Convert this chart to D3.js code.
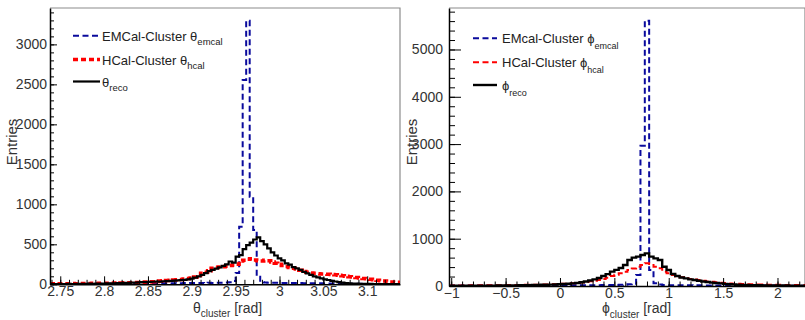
<!DOCTYPE html>
<html>
<head>
<meta charset="utf-8">
<script src="https://cdn.jsdelivr.net/npm/d3@7"></script>
<style>
  html, body { margin: 0; padding: 0; background: #fff; }
  svg { display: block; }
  text { font-family: "Liberation Sans", Arial, sans-serif; }
</style>
</head>
<body>
<svg id="chart" width="805" height="320"></svg>
<script>
// ---------------- DATA ----------------
// theta histograms: 100 bins, width 0.004 rad, starting at 2.738 rad
const thetaBinStart = 2.738;
const thetaBinWidth = 0.004;
const thetaEmcal = [
  2, 3, 2, 3, 4, 3, 4, 5, 4, 5,
  5, 6, 5, 6, 7, 6, 7, 8, 7, 8,
  9, 8, 9, 10, 9, 10, 11, 10, 11, 12,
  11, 12, 13, 12, 13, 14, 13, 14, 15, 14,
  15, 16, 15, 17, 16, 18, 17, 19, 18, 20,
  22, 25, 40, 140, 720, 2554, 3295, 1095, 680, 95,
  30, 22, 20, 19, 18, 18, 17, 17, 16, 16,
  15, 15, 14, 14, 13, 13, 12, 12, 11, 11,
  10, 10, 9, 9, 8, 8, 7, 7, 6, 6,
  5, 5, 5, 4, 4, 4, 3, 3, 3, 2
];
const thetaHcal = [
  6, 5, 7, 6, 8, 7, 9, 8, 10, 9,
  11, 10, 12, 11, 13, 12, 14, 15, 14, 16,
  17, 18, 20, 19, 22, 24, 26, 28, 30, 33,
  36, 40, 44, 48, 50, 53, 57, 60, 66, 72,
  80, 90, 110, 137, 150, 170, 200, 210, 215, 220,
  225, 235, 241, 250, 291, 300, 312, 320, 305, 295,
  290, 300, 295, 280, 262, 250, 235, 222, 210, 200,
  190, 175, 160, 150, 140, 137, 133, 130, 127, 125,
  122, 118, 112, 106, 100, 95, 90, 84, 78, 72,
  68, 62, 58, 50, 45, 40, 35, 30, 28, 25
];
const thetaReco = [
  2, 3, 2, 4, 3, 5, 4, 6, 5, 7,
  6, 8, 7, 9, 10, 9, 12, 11, 13, 14,
  15, 17, 18, 20, 22, 24, 26, 28, 31, 32,
  35, 34, 38, 40, 44, 47, 50, 53, 56, 62,
  70, 84, 100, 118, 140, 165, 180, 196, 212, 230,
  250, 285, 270, 345, 366, 440, 490, 520, 560, 587,
  540, 500, 450, 400, 360, 325, 300, 262, 245, 215,
  200, 180, 155, 137, 118, 100, 87, 75, 62, 54,
  44, 35, 26, 20, 16, 13, 10, 9, 7, 6,
  6, 5, 4, 4, 3, 3, 2, 3, 2, 2
];
const thetaMajorTicks = [2.75, 2.8, 2.85, 2.9, 2.95, 3, 3.05, 3.1];
const thetaMajorLabels = ["2.75", "2.8", "2.85", "2.9", "2.95", "3", "3.05", "3.1"];
const thetaCountTicks = [0, 500, 1000, 1500, 2000, 2500, 3000];

// phi histograms: bins of width 0.04 rad, starting at -1.02 rad (visible part)
const phiBinStart = -1.02;
const phiBinWidth = 0.04;
const phiEmcal = [
  8, 10, 9, 11, 10, 12, 11, 12, 10, 13,
  12, 11, 13, 12, 14, 13, 12, 14, 13, 15,
  14, 13, 15, 14, 16, 15, 14, 16, 15, 17,
  16, 15, 17, 18, 17, 19, 18, 20, 22, 24,
  28, 35, 50, 230, 2966, 5609, 338, 57, 30, 20,
  18, 17, 16, 16, 15, 15, 14, 14, 13, 13,
  12, 12, 12, 11, 11, 11, 10, 10, 10, 9,
  9, 9, 8, 8, 8, 7, 7, 7, 6, 6,
  6, 6
];
const phiHcal = [
  10, 12, 11, 13, 12, 14, 13, 15, 16, 15,
  17, 16, 18, 19, 20, 22, 21, 24, 25, 27,
  29, 31, 33, 35, 38, 42, 46, 52, 58, 66,
  75, 85, 98, 112, 127, 150, 175, 211, 240, 270,
  300, 338, 370, 408, 444, 480, 465, 408, 374, 303,
  268, 232, 200, 183, 165, 150, 140, 127, 110, 95,
  90, 80, 70, 62, 55, 50, 45, 42, 38, 35,
  33, 31, 30, 28, 27, 25, 24, 23, 22, 21,
  20, 20
];
const phiReco = [
  3, 4, 3, 5, 4, 6, 5, 7, 6, 8,
  8, 9, 10, 11, 12, 14, 15, 17, 18, 20,
  22, 25, 27, 30, 33, 37, 42, 48, 55, 65,
  78, 95, 115, 140, 170, 211, 250, 303, 340, 380,
  444, 550, 600, 620, 655, 690, 620, 585, 550, 408,
  338, 254, 211, 180, 162, 140, 127, 110, 95, 85,
  72, 62, 55, 45, 38, 32, 27, 24, 20, 18,
  16, 15, 13, 12, 11, 10, 9, 9, 8, 7,
  7, 6
];
const phiMajorTicks = [-1, -0.5, 0, 0.5, 1, 1.5, 2];
const phiMajorLabels = ["\u22121", "\u22120.5", "0", "0.5", "1", "1.5", "2"];
const phiCountTicks = [0, 1000, 2000, 3000, 4000, 5000];

const legendTheta = [
  { main: "EMCal-Cluster \u03b8", sub: "emcal" },
  { main: "HCal-Cluster \u03b8", sub: "hcal" },
  { main: "\u03b8", sub: "reco" }
];
const legendPhi = [
  { main: "EMcal-Cluster \u03d5", sub: "emcal" },
  { main: "HCal-Cluster \u03d5", sub: "hcal" },
  { main: "\u03d5", sub: "reco" }
];

// ---------------- DRAWING ----------------
const svg = d3.select("#chart");

const blue = "#0a0a9c", red = "#ff0000", black = "#000000";

function minorRange(a, b, step) {
  const out = [];
  const n = Math.round((b - a) / step);
  for (let i = 0; i <= n; i++) out.push(+(a + i * step).toFixed(6));
  return out;
}

function histPoints(start, width, values) {
  const pts = values.map((v, i) => [start + i * width, v]);
  pts.push([start + values.length * width, values[values.length - 1]]);
  return pts;
}

function drawPanel(cfg) {
  const g = svg.append("g");
  const x = d3.scaleLinear().domain(cfg.xDomain).range([cfg.left, cfg.right]);
  const y = d3.scaleLinear().domain(cfg.yDomain).range([cfg.bottom, cfg.top]);

  const clipId = "clip" + cfg.id;
  svg.append("clipPath").attr("id", clipId).append("rect")
    .attr("x", cfg.left).attr("y", cfg.top)
    .attr("width", cfg.right - cfg.left).attr("height", cfg.bottom - cfg.top);

  // frame (gray top / right)
  g.append("path")
    .attr("d", `M${cfg.left},${cfg.top}H${cfg.right}V${cfg.bottom}`)
    .attr("fill", "none").attr("stroke", "#8c8c8c").attr("stroke-width", 1.2);

  // histograms
  const line = d3.line().x(d => x(d[0])).y(d => y(d[1])).curve(d3.curveStepAfter);
  const hg = g.append("g").attr("clip-path", `url(#${clipId})`);
  cfg.series.forEach(s => {
    hg.append("path")
      .attr("d", line(histPoints(cfg.binStart, cfg.binWidth, s.values)))
      .attr("fill", "none").attr("stroke", s.color)
      .attr("stroke-width", s.width)
      .attr("stroke-dasharray", s.dash || null);
  });

  // x axis
  const xAxis = g.append("g").attr("transform", `translate(0,${cfg.bottom})`)
    .call(d3.axisBottom(x).tickValues(cfg.xMajor)
      .tickFormat((d, i) => cfg.xLabels[i])
      .tickSizeInner(-cfg.xMajorLen).tickSizeOuter(0).tickPadding(2));
  xAxis.select(".domain").attr("stroke", "#000").attr("stroke-width", 1.5);
  xAxis.selectAll(".tick line").attr("stroke", "#000");
  xAxis.selectAll("text").attr("font-size", 14).attr("fill", "#333")
    .attr("font-family", cfg.tickFont);
  const xMinor = g.append("g").attr("transform", `translate(0,${cfg.bottom})`)
    .call(d3.axisBottom(x).tickValues(cfg.xMinor).tickFormat("")
      .tickSizeInner(-cfg.xMinorLen).tickSizeOuter(0));
  xMinor.select(".domain").remove();
  xMinor.selectAll(".tick line").attr("stroke", "#000");

  // y axis
  const yAxis = g.append("g").attr("transform", `translate(${cfg.left},0)`)
    .call(d3.axisLeft(y).tickValues(cfg.yMajor).tickFormat(d3.format("d"))
      .tickSizeInner(-cfg.yMajorLen).tickSizeOuter(0).tickPadding(cfg.yPad));
  yAxis.select(".domain").attr("stroke", "#000").attr("stroke-width", 1.5);
  yAxis.selectAll(".tick line").attr("stroke", "#000");
  yAxis.selectAll("text").attr("font-size", 14).attr("fill", "#333")
    .attr("font-family", cfg.tickFont);
  const yMinor = g.append("g").attr("transform", `translate(${cfg.left},0)`)
    .call(d3.axisLeft(y).tickValues(cfg.yMinor).tickFormat("")
      .tickSizeInner(-cfg.yMinorLen).tickSizeOuter(0));
  yMinor.select(".domain").remove();
  yMinor.selectAll(".tick line").attr("stroke", "#000");

  // y title
  g.append("text")
    .attr("transform", `translate(${cfg.yTitleX},${cfg.yTitleY}) rotate(-90)`)
    .attr("text-anchor", "middle").attr("font-size", 15).attr("fill", "#333")
    .text("Entries");

  // x title
  const xt = g.append("text").attr("x", cfg.xTitleX).attr("y", cfg.xTitleY)
    .attr("font-size", 14).attr("fill", "#333");
  xt.append("tspan").text(cfg.xSymbol);
  xt.append("tspan").attr("font-size", 10).attr("dy", cfg.xSubDy).text("cluster");
  xt.append("tspan").attr("dy", -cfg.xSubDy).text(" [rad]");

  // legend
  cfg.legend.forEach((L, i) => {
    const s = cfg.series[i];
    const ly = cfg.legendRows[i];
    g.append("line")
      .attr("x1", cfg.legendX0).attr("x2", cfg.legendX1)
      .attr("y1", ly).attr("y2", ly)
      .attr("stroke", s.color).attr("stroke-width", s.legendWidth || s.width)
      .attr("stroke-dasharray", s.dash || null);
    const t = g.append("text").attr("x", cfg.legendTextX).attr("y", ly + cfg.legendBaseOff)
      .attr("font-size", 13).attr("fill", "#222").attr("font-family", cfg.legendFont);
    t.append("tspan").text(L.main);
    t.append("tspan").attr("font-size", cfg.legendSubSize).attr("dy", cfg.legendSubDy).text(L.sub);
  });
}

drawPanel({
  id: "theta",
  left: 50, right: 400, top: 8, bottom: 284.3,
  xDomain: [2.7383, 3.1374], yDomain: [0, 3455],
  binStart: thetaBinStart, binWidth: thetaBinWidth,
  series: [
    { values: thetaEmcal, color: blue, width: 2, dash: "6,3.5" },
    { values: thetaHcal, color: red, width: 3.5, dash: "5,3" },
    { values: thetaReco, color: black, width: 2.2 }
  ],
  xMajor: thetaMajorTicks, xLabels: thetaMajorLabels,
  xMinor: minorRange(2.74, 3.13, 0.01), xMajorLen: 8, xMinorLen: 4.5,
  yMajor: thetaCountTicks, yMinor: minorRange(0, 3400, 100),
  yMajorLen: 7, yMinorLen: 4, yPad: 3,
  tickFont: "Liberation Sans, Arial, sans-serif",
  yTitleX: 17, yTitleY: 142,
  xSymbol: "\u03b8", xTitleX: 193, xTitleY: 313, xSubDy: 4,
  legend: legendTheta, legendRows: [35.7, 59.5, 81.5],
  legendX0: 73, legendX1: 100, legendTextX: 102, legendBaseOff: 5.5, legendSubDy: 4,
  legendSubSize: 9.5,
  legendFont: "Liberation Sans, Arial, sans-serif"
});

drawPanel({
  id: "phi",
  left: 449, right: 805, top: 8, bottom: 286,
  xDomain: [-1.0205, 2.253], yDomain: [0, 5877],
  binStart: phiBinStart, binWidth: phiBinWidth,
  series: [
    { values: phiEmcal, color: blue, width: 2, dash: "6,3.5" },
    { values: phiHcal, color: red, width: 2, dash: "6,3.5" },
    { values: phiReco, color: black, width: 2.4 }
  ],
  xMajor: phiMajorTicks, xLabels: phiMajorLabels,
  xMinor: minorRange(-1, 2.2, 0.1), xMajorLen: 8, xMinorLen: 4.5,
  yMajor: phiCountTicks, yMinor: minorRange(0, 5800, 200),
  yMajorLen: 12, yMinorLen: 6, yPad: 6,
  tickFont: "Liberation Sans, Arial, sans-serif",
  yTitleX: 417, yTitleY: 142,
  xSymbol: "\u03d5", xTitleX: 602, xTitleY: 313, xSubDy: 5,
  legend: legendPhi, legendRows: [38.3, 62.3, 85],
  legendX0: 473, legendX1: 497, legendTextX: 502, legendBaseOff: 4.5, legendSubDy: 6,
  legendSubSize: 9,
  legendFont: "Liberation Sans Narrow, Liberation Sans, Arial, sans-serif"
});
</script>
</body>
</html>
